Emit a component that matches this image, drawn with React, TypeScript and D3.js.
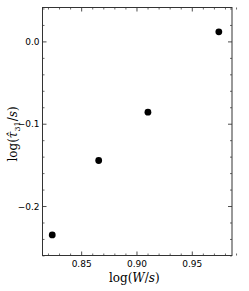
import * as d3 from 'd3'

// data
const logW = [0.8234, 0.8654, 0.9099, 0.974]
const logTau = [-0.2345, -0.1441, -0.0854, 0.0122]
const xTicks = [0.85, 0.9, 0.95]
const yTicks = [-0.2, -0.1, 0.0]

const W = 249
const H = 291
const margin = { top: 7.5, right: 17, bottom: 35.5, left: 42.5 }

export default function App() {
  const innerW = W - margin.left - margin.right
  const innerH = H - margin.top - margin.bottom

  const x = d3.scaleLinear().domain([0.8146, 0.9859]).range([0, innerW])
  const y = d3.scaleLinear().domain([-0.2595, 0.0418]).range([innerH, 0])

  const xMinor = d3.range(0.82, 0.99, 0.01).filter(v => !xTicks.some(t => Math.abs(t - v) < 1e-6))
  const yMinor = d3.range(-0.26, 0.045, 0.02).filter(v => !yTicks.some(t => Math.abs(t - v) < 1e-6))

  const tickFont = '"DejaVu Sans", sans-serif'
  const labelFont = '"DejaVu Serif", serif'

  return (
    <svg width={W} height={H} style={{ position: 'absolute', left: 0, top: 0, background: '#fff' }}>
      <g transform={`translate(${margin.left},${margin.top})`}>
        {/* minor ticks, all four sides, inward */}
        {xMinor.map((v, i) => (
          <g key={'xm' + i} stroke="#000" strokeWidth={0.6}>
            <line x1={x(v)} x2={x(v)} y1={innerH} y2={innerH - 2} />
            <line x1={x(v)} x2={x(v)} y1={0} y2={2} />
          </g>
        ))}
        {yMinor.map((v, i) => (
          <g key={'ym' + i} stroke="#000" strokeWidth={0.6}>
            <line x1={0} x2={2} y1={y(v)} y2={y(v)} />
            <line x1={innerW} x2={innerW - 2} y1={y(v)} y2={y(v)} />
          </g>
        ))}
        {/* major ticks */}
        {xTicks.map((v, i) => (
          <g key={'x' + i}>
            <line x1={x(v)} x2={x(v)} y1={innerH} y2={innerH - 4} stroke="#000" strokeWidth={0.7} />
            <line x1={x(v)} x2={x(v)} y1={0} y2={4} stroke="#000" strokeWidth={0.7} />
            <text x={x(v)} y={innerH + 11.5} textAnchor="middle" fontSize={9} fontFamily={tickFont} fill="#000">
              {d3.format('.2f')(v)}
            </text>
          </g>
        ))}
        {yTicks.map((v, i) => (
          <g key={'y' + i}>
            <line x1={0} x2={4} y1={y(v)} y2={y(v)} stroke="#000" strokeWidth={0.7} />
            <line x1={innerW} x2={innerW - 4} y1={y(v)} y2={y(v)} stroke="#000" strokeWidth={0.7} />
            <text x={-3} y={y(v)} dy="0.35em" textAnchor="end" fontSize={9} fontFamily={tickFont} fill="#000">
              {d3.format('.1f')(v).replace('-', '\u2212')}
            </text>
          </g>
        ))}
        <rect x={0} y={0} width={innerW} height={innerH} fill="none" stroke="#333" strokeWidth={1} />
        {logW.map((v, i) => (
          <circle key={'p' + i} cx={x(v)} cy={y(logTau[i])} r={3.4} fill="#000" />
        ))}
      </g>
      <text x={margin.left + innerW / 2 - 3} y={281.5} textAnchor="middle" fontSize={12} fontFamily={labelFont} fill="#000">
        log(<tspan fontStyle="italic">W</tspan>/<tspan fontStyle="italic">s</tspan>)
      </text>
      <text transform={`translate(17,134) rotate(-90)`} textAnchor="middle" fontSize={12} fontFamily={labelFont} fill="#000">
        log(<tspan fontStyle="italic">{'\u03C4\u0302'}</tspan>
        <tspan fontSize={8} dy={3}>31</tspan>
        <tspan dy={-3}>/</tspan>
        <tspan fontStyle="italic">s</tspan>)
      </text>
    </svg>
  )
}
